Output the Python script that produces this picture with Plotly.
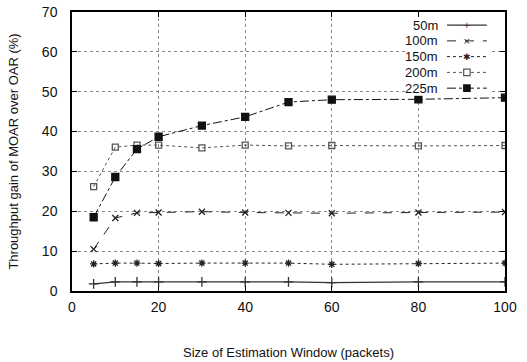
import plotly.graph_objects as go

window = [5, 10, 15, 20, 30, 40, 50, 60, 80, 100]
gain_50m = [1.8, 2.3, 2.3, 2.3, 2.3, 2.3, 2.3, 2.1, 2.3, 2.3]
gain_100m = [10.5, 18.3, 19.6, 19.7, 19.9, 19.7, 19.6, 19.5, 19.7, 19.8]
gain_150m = [6.8, 7.0, 7.0, 6.9, 7.0, 7.0, 7.0, 6.7, 6.9, 7.0]
gain_200m = [26.2, 36.1, 36.6, 36.6, 35.9, 36.6, 36.4, 36.5, 36.4, 36.5]
gain_225m = [18.5, 28.6, 35.6, 38.7, 41.5, 43.7, 47.4, 48.0, 48.1, 48.5]

# name, values, dash, marker symbol, marker size, colour, width, legend glyph
series = [
    ("50m", gain_50m, "solid", "cross-thin", 7, "#333", 1.2, "+"),
    ("100m", gain_100m, "dash", "x-thin", 6, "#222", 1.0, "×"),
    ("150m", gain_150m, "dot", "asterisk", 6, "#222", 1.0, "✱"),
    ("200m", gain_200m, "dot", "square-open", 6, "#555", 1.0, None),
    ("225m", gain_225m, "dashdot", "square", 7, "#111", 1.0, None),
]

fig = go.Figure()
for name, ys, dash, sym, size, col, w, _ in series:
    fig.add_trace(go.Scatter(
        x=window, y=ys, name=name, mode="lines+markers",
        line=dict(color=col, width=w, dash=dash),
        marker=dict(symbol=sym, size=size, color=col,
                    line=dict(color=col, width=1.3)),
        showlegend=False,
    ))

font_family = "Liberation Sans, Arial, sans-serif"
axis_common = dict(
    showgrid=True, gridcolor="#888", griddash="dot", gridwidth=1,
    showline=True, linecolor="black", linewidth=1.5, mirror="ticks",
    ticks="inside", ticklen=5, tickcolor="black",
    zeroline=False, automargin=False,
    tickfont=dict(family=font_family, size=14, color="#111"),
)

fig.update_xaxes(range=[0, 100], dtick=20, ticklabelstandoff=2,
                 title=dict(text="Size of Estimation Window (packets)",
                            font=dict(size=13, color="#111"), standoff=34),
                 **axis_common)
fig.update_yaxes(range=[0, 70], dtick=10, ticklabelstandoff=10,
                 title=dict(text="Throughput gain of MOAR over OAR (%)",
                            font=dict(size=13, color="#111"), standoff=20),
                 **axis_common)

# gnuplot-style key: label first, then line sample (text right-aligned)
shapes = [dict(type="rect", xref="paper", yref="paper",
               x0=0.77, x1=0.97, y0=0.70, y1=0.982,
               fillcolor="white", line=dict(width=0), layer="above")]
annotations = []
row_top, row_step = 0.953, 0.0565
text_right, samp_x0, samp_x1 = 0.848, 0.866, 0.958
samp_mid = (samp_x0 + samp_x1) / 2
sq_w, sq_h = 3.2 / 433, 3.2 / 279
for i, (name, ys, dash, sym, size, col, w, glyph) in enumerate(series):
    yy = row_top - i * row_step
    annotations.append(dict(xref="paper", yref="paper", x=text_right, y=yy,
                            text=name, showarrow=False, xanchor="right",
                            yanchor="middle", borderpad=0,
                            font=dict(family=font_family, size=13, color="#111")))
    shapes.append(dict(type="line", xref="paper", yref="paper",
                       x0=samp_x0, x1=samp_x1, y0=yy, y1=yy,
                       line=dict(color=col, width=w, dash=dash), layer="above"))
    if glyph is not None:
        annotations.append(dict(xref="paper", yref="paper", x=samp_mid, y=yy,
                                text=glyph, showarrow=False, xanchor="center",
                                yanchor="middle", borderpad=0,
                                font=dict(family="DejaVu Sans", size=9, color=col)))
    else:
        filled = sym == "square"
        shapes.append(dict(type="rect", xref="paper", yref="paper",
                           x0=samp_mid - sq_w, x1=samp_mid + sq_w,
                           y0=yy - sq_h, y1=yy + sq_h,
                           fillcolor=col if filled else "white",
                           line=dict(color=col, width=1.2), layer="above"))

fig.update_layout(
    width=527, height=362,
    margin=dict(l=72, r=22, t=12, b=71),
    paper_bgcolor="white", plot_bgcolor="white",
    font=dict(family=font_family, color="#111"),
    showlegend=False,
    shapes=shapes, annotations=annotations,
)

fig.write_html("out.html", config={"displayModeBar": False},
               post_script="document.body.style.margin='0px';")
